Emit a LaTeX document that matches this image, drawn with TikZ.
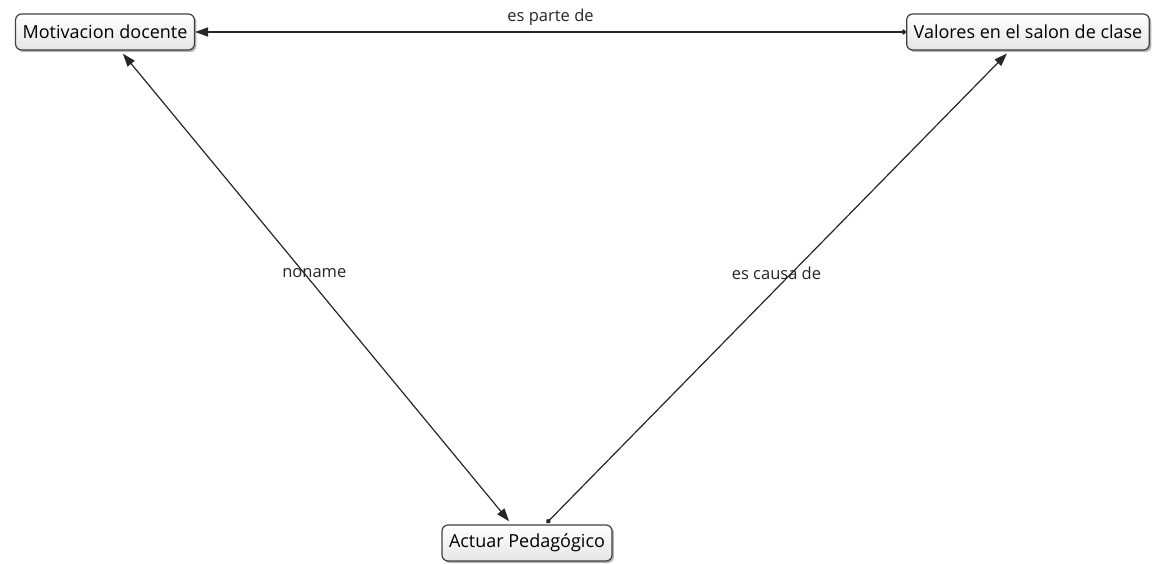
\documentclass[tikz,border=0pt]{standalone}
\usepackage{fontspec}
\setmainfont{Open Sans}
\usetikzlibrary{arrows.meta,shadows}
\tikzset{
  concept/.style={draw=black!75, line width=1.2pt, rounded corners=6pt,
    top color=white, bottom color=black!10, drop shadow={opacity=0.6, shadow xshift=2pt, shadow yshift=-2pt},
    minimum height=36pt, inner xsep=7pt, font=\fontsize{18}{20}\selectfont},
  link/.style={line width=1.2pt, black!85},
  linktext/.style={font=\fontsize{16.5}{19}\selectfont, text=black!85}
}
\begin{document}
\begin{tikzpicture}[x=1pt, y=-1pt]
  \useasboundingbox (0,0) rectangle (1155,564);
  % concepts
  \node[concept] (motivacion) at (105,32) {Motivacion docente};
  \node[concept] (valores) at (1028,32) {Valores en el salon de clase};
  \node[concept] (actuar) at (527,543) {Actuar Pedagógico};
  % links
  \draw[link, {Circle[length=5pt]}-{Triangle[length=13pt,width=9pt]}] (valores) -- (motivacion)
    node[linktext, midway, above=3pt] {es parte de};
  \draw[link, {Triangle[length=13pt,width=9pt]}-{Triangle[length=13pt,width=9pt]}, shorten <=4pt, shorten >=4pt] (motivacion) -- (actuar)
    node[linktext, pos=0.47, xshift=10pt] {noname};
  \draw[link, {Circle[length=5pt]}-{Triangle[length=13pt,width=9pt]}, shorten <=2pt, shorten >=4pt] (actuar) -- (valores)
    node[linktext, pos=0.53, xshift=-15pt] {es causa de};
\end{tikzpicture}
\end{document}
